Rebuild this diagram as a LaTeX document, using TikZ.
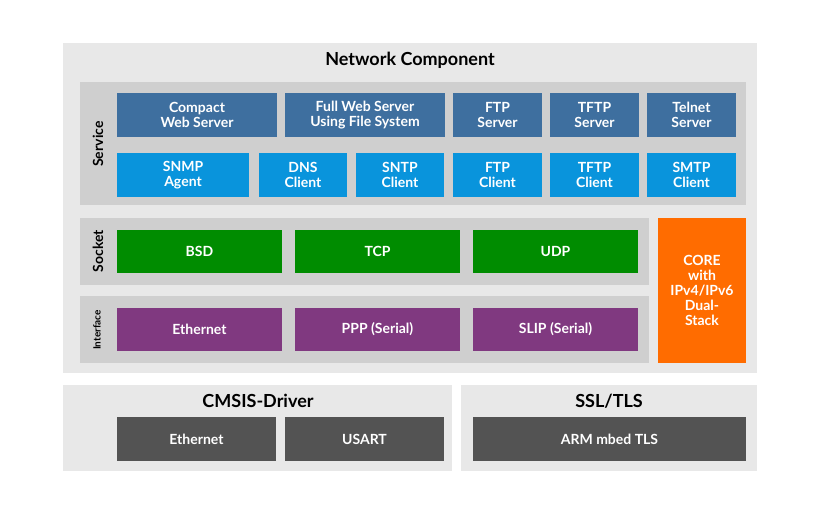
\documentclass[tikz,border=0pt]{standalone}
\usepackage{fontspec}
\setmainfont{Lato}
\begin{document}
\newcommand\bx[7]{\node[#6,minimum width={(#4-#2)*1pt},minimum height={(#5-#3)*1pt}] (#1) at ({(#2+#4)/2},{(#3+#5)/2}) {#7};}
\begin{tikzpicture}[x=1pt,y=-1pt,
  base/.style={draw=none,inner sep=0pt,align=center,font=\bfseries\fontsize{14}{15}\selectfont,text=white},
  panel/.style={base,fill=gray!18},
  sub/.style={base,fill=gray!38},
  srv/.style={base,fill=cyan!60!blue!70!black},
  cli/.style={base,fill=cyan!80!blue},
  grn/.style={base,fill=green!55!black},
  prp/.style={base,fill=violet!55!gray},
  org/.style={base,fill=orange!85!red},
  drk/.style={base,fill=gray!65!black},
  ttl/.style={font=\bfseries\fontsize{18}{20}\selectfont,text=black},
  vlab/.style={rotate=90,text=black,font=\bfseries\fontsize{14}{15}\selectfont}]
\useasboundingbox (0,0) rectangle (820,512);
\fill[white] (0,0) rectangle (820,512);
\bx{nc}{63}{43}{757}{373}{panel}{}
\node[ttl] (nct) at (410,60) {Network Component};
\bx{svc}{80}{82}{746}{205}{sub}{}
\node[vlab] (svcl) at (98,144) {Service};
\bx{cws}{117}{93}{277}{137}{srv}{Compact\\Web Server}
\bx{fws}{285}{93}{445}{137}{srv}{Full Web Server\\Using File System}
\bx{ftps}{453}{93}{542}{137}{srv}{FTP\\Server}
\bx{tftps}{550}{93}{639}{137}{srv}{TFTP\\Server}
\bx{tel}{647}{93}{736}{137}{srv}{Telnet\\Server}
\bx{snmp}{117}{153}{249}{197}{cli}{SNMP\\Agent}
\bx{dns}{259}{153}{347}{197}{cli}{DNS\\Client}
\bx{sntp}{356}{153}{444}{197}{cli}{SNTP\\Client}
\bx{ftpc}{453}{153}{542}{197}{cli}{FTP\\Client}
\bx{tftpc}{550}{153}{639}{197}{cli}{TFTP\\Client}
\bx{smtp}{647}{153}{736}{197}{cli}{SMTP\\Client}
\bx{sock}{80}{218}{649}{285}{sub}{}
\node[vlab] (sockl) at (98,251) {Socket};
\bx{bsd}{117}{230}{282}{273}{grn}{BSD}
\bx{tcp}{295}{230}{460}{273}{grn}{TCP}
\bx{udp}{473}{230}{638}{273}{grn}{UDP}
\bx{ifc}{80}{296}{649}{363}{sub}{}
\node[vlab,font=\bfseries\fontsize{10}{11}\selectfont] (ifcl) at (97,330) {Interface};
\bx{eth}{117}{308}{282}{351}{prp}{Ethernet}
\bx{ppp}{295}{308}{460}{351}{prp}{PPP (Serial)}
\bx{slip}{473}{308}{638}{351}{prp}{SLIP (Serial)}
\bx{core}{658}{218}{746}{363}{org}{CORE\\with\\IPv4/IPv6\\Dual-\\Stack}
\bx{cmsis}{63}{385}{452}{471}{panel}{}
\node[ttl] (cmsist) at (258,401) {CMSIS-Driver};
\bx{deth}{117}{417}{276}{461}{drk}{Ethernet}
\bx{usart}{285}{417}{444}{461}{drk}{USART}
\bx{ssl}{461}{385}{757}{471}{panel}{}
\node[ttl] (sslt) at (609,401) {SSL/TLS};
\bx{mbed}{473}{417}{746}{461}{drk}{ARM mbed TLS}
\end{tikzpicture}
\end{document}
